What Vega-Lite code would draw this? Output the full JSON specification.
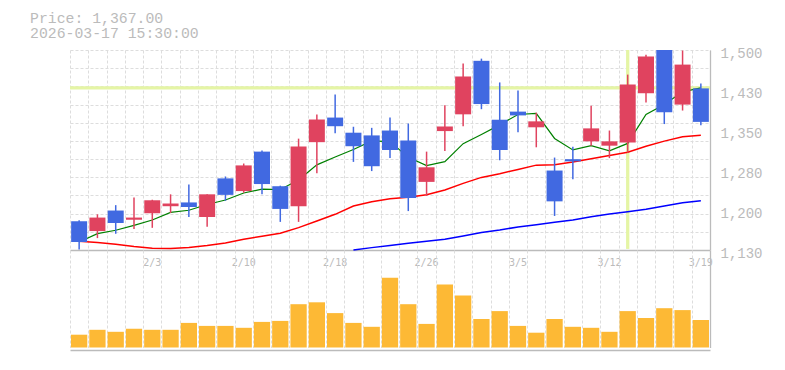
{
  "$schema": "https://vega.github.io/schema/vega-lite/v6.json",
  "background": "white",
  "padding": {"left": 30, "top": 10, "right": 5, "bottom": 5},
  "title": {
    "text": ["Price: 1,367.00", "2026-03-17 15:30:00"],
    "anchor": "start",
    "frame": "group",
    "dx": -40,
    "offset": 5,
    "font": "Liberation Mono",
    "fontSize": 14.8,
    "fontWeight": "normal",
    "color": "#bbbbbb",
    "lineHeight": 15.6
  },
  "bounds": "flush",
  "spacing": 0,
  "datasets": {
    "k": [
      {"d": "1/28", "o": 1183, "h": 1185, "l": 1131, "c": 1145, "v": 128, "ma5": 1144.9, "ma25": 1146, "ma75": null},
      {"d": "1/29", "o": 1165, "h": 1196, "l": 1152, "c": 1190, "v": 177, "ma5": 1160.3, "ma25": 1143.7, "ma75": null},
      {"d": "1/30", "o": 1203, "h": 1213, "l": 1160, "c": 1180, "v": 157, "ma5": 1166.5, "ma25": 1140.6, "ma75": null},
      {"d": "2/2", "o": 1186, "h": 1227, "l": 1169, "c": 1190, "v": 187, "ma5": 1175.7, "ma25": 1136.3, "ma75": null},
      {"d": "2/3", "o": 1198, "h": 1223, "l": 1171, "c": 1222, "v": 177, "ma5": 1185.4, "ma25": 1133.2, "ma75": null},
      {"d": "2/4", "o": 1211, "h": 1233, "l": 1198.5, "c": 1216, "v": 177, "ma5": 1199.6, "ma25": 1132.6, "ma75": null},
      {"d": "2/5", "o": 1218, "h": 1251, "l": 1191, "c": 1209.5, "v": 246, "ma5": 1203.5, "ma25": 1134.5, "ma75": null},
      {"d": "2/6", "o": 1191, "h": 1233, "l": 1173, "c": 1233, "v": 216, "ma5": 1214.1, "ma25": 1138.2, "ma75": null},
      {"d": "2/9", "o": 1262.5, "h": 1266, "l": 1221, "c": 1232, "v": 216, "ma5": 1222.5, "ma25": 1143.1, "ma75": null},
      {"d": "2/10", "o": 1239, "h": 1290, "l": 1236, "c": 1286.5, "v": 197, "ma5": 1235.4, "ma25": 1149.8, "ma75": null},
      {"d": "2/12", "o": 1312, "h": 1314, "l": 1233, "c": 1252, "v": 256, "ma5": 1242.6, "ma25": 1155.4, "ma75": null},
      {"d": "2/13", "o": 1248, "h": 1249, "l": 1182, "c": 1206, "v": 266, "ma5": 1241.9, "ma25": 1161, "ma75": null},
      {"d": "2/16", "o": 1211, "h": 1336, "l": 1182, "c": 1321.5, "v": 433, "ma5": 1259.6, "ma25": 1171.4, "ma75": null},
      {"d": "2/17", "o": 1329.5, "h": 1380.6, "l": 1272, "c": 1371.4, "v": 452, "ma5": 1287.5, "ma25": 1183.7, "ma75": null},
      {"d": "2/18", "o": 1375, "h": 1417.5, "l": 1346, "c": 1359, "v": 344, "ma5": 1302, "ma25": 1196, "ma75": null},
      {"d": "2/19", "o": 1347, "h": 1358, "l": 1293, "c": 1322, "v": 246, "ma5": 1316, "ma25": 1211.4, "ma75": 1130.1},
      {"d": "2/20", "o": 1342, "h": 1356, "l": 1276, "c": 1285, "v": 207, "ma5": 1331.8, "ma25": 1219.4, "ma75": 1134.4},
      {"d": "2/24", "o": 1351, "h": 1375, "l": 1300, "c": 1315, "v": 698, "ma5": 1330.5, "ma25": 1225, "ma75": 1138.2},
      {"d": "2/25", "o": 1332.6, "h": 1364, "l": 1202, "c": 1226, "v": 433, "ma5": 1301.4, "ma25": 1227.4, "ma75": 1142.5},
      {"d": "2/26", "o": 1256, "h": 1312, "l": 1230, "c": 1283, "v": 236, "ma5": 1286.2, "ma25": 1232.3, "ma75": 1146.1},
      {"d": "2/27", "o": 1350, "h": 1398, "l": 1313, "c": 1358.5, "v": 630, "ma5": 1293.5, "ma25": 1241, "ma75": 1149.8},
      {"d": "3/2", "o": 1381, "h": 1475, "l": 1359, "c": 1451, "v": 521, "ma5": 1326.7, "ma25": 1253.2, "ma75": 1156},
      {"d": "3/3", "o": 1480, "h": 1484, "l": 1390.5, "c": 1400, "v": 285, "ma5": 1343.7, "ma25": 1264.3, "ma75": 1162.2},
      {"d": "3/4", "o": 1371, "h": 1440, "l": 1296, "c": 1315, "v": 364, "ma5": 1361.5, "ma25": 1271, "ma75": 1167},
      {"d": "3/5", "o": 1386, "h": 1425, "l": 1348, "c": 1379, "v": 216, "ma5": 1380.7, "ma25": 1279, "ma75": 1172.6},
      {"d": "3/6", "o": 1357, "h": 1384, "l": 1320, "c": 1368, "v": 148, "ma5": 1382.6, "ma25": 1287, "ma75": 1176.9},
      {"d": "3/9", "o": 1277, "h": 1301, "l": 1193, "c": 1220, "v": 285, "ma5": 1336.4, "ma25": 1287.7, "ma75": 1181.2},
      {"d": "3/10", "o": 1298, "h": 1321, "l": 1261, "c": 1294, "v": 207, "ma5": 1315.2, "ma25": 1292.6, "ma75": 1185.5},
      {"d": "3/11", "o": 1331, "h": 1397, "l": 1323, "c": 1355, "v": 197, "ma5": 1323.2, "ma25": 1298.8, "ma75": 1191.7},
      {"d": "3/12", "o": 1323, "h": 1351, "l": 1300, "c": 1331, "v": 157, "ma5": 1313.6, "ma25": 1305, "ma75": 1196.6},
      {"d": "3/13", "o": 1329, "h": 1454.5, "l": 1310, "c": 1436, "v": 364, "ma5": 1327.2, "ma25": 1311, "ma75": 1200.9},
      {"d": "3/16", "o": 1420, "h": 1491, "l": 1403, "c": 1488, "v": 295, "ma5": 1380.8, "ma25": 1322, "ma75": 1205.2},
      {"d": "3/17", "o": 1500, "h": 1500, "l": 1363, "c": 1385, "v": 393, "ma5": 1399, "ma25": 1331.4, "ma75": 1211.4},
      {"d": "3/18", "o": 1399, "h": 1499, "l": 1388, "c": 1473, "v": 374, "ma5": 1422.6, "ma25": 1339.4, "ma75": 1217.5},
      {"d": "3/19", "o": 1429, "h": 1438, "l": 1361, "c": 1367, "v": 275, "ma5": 1429.8, "ma25": 1342.5, "ma75": 1221.2}
    ]
  },
  "vconcat": [
    {
      "width": 640,
      "height": 200,
      "data": {"name": "k"},
      "resolve": {"axis": {"y": "independent", "x": "independent"}},
      "layer": [
        {
          "data": {"values": [{}]},
          "mark": {"type": "rule", "color": "#e5f5a5", "strokeWidth": 3.3},
          "encoding": {
            "y": {
              "datum": 1430, "type": "quantitative",
              "scale": {"domain": [1130, 1500], "nice": false, "zero": false},
              "axis": {
                "orient": "left",
                "values": [1130, 1163.636, 1197.273, 1230.909, 1264.545, 1298.182, 1331.818, 1365.455, 1399.091, 1432.727, 1466.364, 1500],
                "grid": true, "gridDash": [3, 2], "gridColor": "#dddddd", "gridWidth": 1,
                "labels": false, "ticks": false, "domain": false, "title": null
              }
            }
          }
        },
        {
          "mark": {"type": "rule", "color": "#e5f5a5", "strokeWidth": 3.3},
          "encoding": {
            "x": {
              "field": "d", "type": "ordinal", "sort": null,
              "scale": {"type": "band", "paddingInner": 0, "paddingOuter": 0},
              "axis": {
                "orient": "bottom",
                "tickBand": "extent", "grid": true, "gridDash": [3, 2], "gridColor": "#dddddd", "gridWidth": 1,
                "ticks": false, "labels": false, "domain": true, "domainColor": "#bbbbbb", "domainWidth": 1.3,
                "title": null
              }
            },
            "y": {"datum": 1500, "type": "quantitative", "scale": {"domain": [1130, 1500], "nice": false, "zero": false}, "axis": null},
            "y2": {"datum": 1132},
            "strokeOpacity": {"condition": {"test": "datum.d === '3/13'", "value": 1}, "value": 0}
          }
        },
        {
          "mark": {"type": "line", "color": "#0000ff", "strokeWidth": 1.5},
          "encoding": {
            "x": {"field": "d", "type": "ordinal", "sort": null, "scale": {"type": "band", "paddingInner": 0, "paddingOuter": 0}, "axis": null},
            "y": {"field": "ma75", "type": "quantitative", "scale": {"domain": [1130, 1500], "nice": false, "zero": false}, "axis": null}
          }
        },
        {
          "mark": {"type": "line", "color": "#ff0000", "strokeWidth": 1.5},
          "encoding": {
            "x": {"field": "d", "type": "ordinal", "sort": null, "scale": {"type": "band", "paddingInner": 0, "paddingOuter": 0}, "axis": null},
            "y": {"field": "ma25", "type": "quantitative", "scale": {"domain": [1130, 1500], "nice": false, "zero": false}, "axis": null}
          }
        },
        {
          "mark": {"type": "line", "color": "#008000", "strokeWidth": 1.2},
          "encoding": {
            "x": {"field": "d", "type": "ordinal", "sort": null, "scale": {"type": "band", "paddingInner": 0, "paddingOuter": 0}, "axis": null},
            "y": {"field": "ma5", "type": "quantitative", "scale": {"domain": [1130, 1500], "nice": false, "zero": false}, "axis": null}
          }
        },
        {
          "mark": {"type": "rule", "strokeWidth": 1.5},
          "encoding": {
            "x": {
              "field": "d", "type": "ordinal", "sort": null,
              "scale": {"type": "band", "paddingInner": 0, "paddingOuter": 0},
              "axis": {
                "orient": "bottom",
                "values": ["2/3", "2/10", "2/18", "2/26", "3/5", "3/12", "3/19"],
                "grid": false, "ticks": false, "domain": false,
                "labelAngle": 0, "labelFont": "DejaVu Sans Mono", "labelFontSize": 10, "labelColor": "#bbbbbb",
                "labelPadding": 7, "labelOverlap": false, "labelBound": false, "labelFlush": false, "title": null
              }
            },
            "y": {
              "field": "l", "type": "quantitative",
              "scale": {"domain": [1130, 1500], "nice": false, "zero": false},
              "axis": {
                "orient": "right", "values": [1130, 1204, 1278, 1352, 1426, 1500],
                "labelExpr": "format(round(datum.value / 10) * 10, ',')",
                "grid": false, "ticks": false, "domain": true, "domainColor": "#bbbbbb", "domainWidth": 1.3,
                "labelFont": "Liberation Mono", "labelFontSize": 14, "labelColor": "#bbbbbb",
                "labelPadding": 10, "labelOffset": 3, "labelBaseline": "middle", "labelAlign": "left",
                "labelFlush": false, "labelOverlap": false, "labelBound": false, "title": null
              }
            },
            "y2": {"field": "h"},
            "color": {"condition": {"test": "datum.c > datum.o", "value": "#e0435f"}, "value": "#4169e1"}
          }
        },
        {
          "mark": {"type": "bar", "width": {"band": 0.875}},
          "encoding": {
            "x": {"field": "d", "type": "ordinal", "sort": null, "scale": {"type": "band", "paddingInner": 0, "paddingOuter": 0}, "axis": null},
            "y": {"field": "o", "type": "quantitative", "scale": {"domain": [1130, 1500], "nice": false, "zero": false}, "axis": null},
            "y2": {"field": "c"},
            "color": {"condition": {"test": "datum.c > datum.o", "value": "#e0435f"}, "value": "#4169e1"}
          }
        }
      ]
    },
    {
      "width": 640,
      "height": 97.5,
      "data": {"name": "k"},
      "mark": {"type": "bar", "color": "#fdb935", "width": {"band": 0.89}},
      "encoding": {
        "x": {
          "field": "d", "type": "ordinal", "sort": null,
          "scale": {"type": "band", "paddingInner": 0, "paddingOuter": 0},
          "axis": {
            "tickBand": "extent", "grid": true, "gridDash": [3, 2], "gridColor": "#dddddd", "gridWidth": 1,
            "labels": false, "ticks": false, "domain": true, "domainColor": "#bbbbbb", "domainWidth": 1.3,
            "offset": 2.5, "title": null
          }
        },
        "y": {
          "field": "v", "type": "quantitative",
          "scale": {"domain": [0, 975], "nice": false},
          "axis": {"orient": "right", "grid": false, "labels": false, "ticks": false, "domain": true, "domainColor": "#bbbbbb", "domainWidth": 1.3, "title": null}
        }
      }
    }
  ],
  "config": {"view": {"stroke": null}}
}
